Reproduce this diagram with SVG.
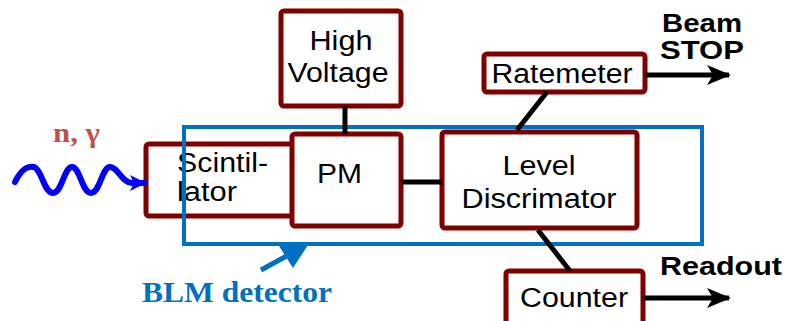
<svg xmlns="http://www.w3.org/2000/svg" width="788" height="321" viewBox="0 0 788 321">
<defs>
<style>
.box{fill:#fff;stroke:#800000;stroke-width:5}
.lbl{font-family:"Liberation Sans",Arial,sans-serif;font-size:27px;fill:#000}
.bold{font-family:"Liberation Sans",Arial,sans-serif;font-weight:bold;font-size:25px;fill:#000}
.conn{stroke:#000;stroke-width:5;fill:none}
</style>
<marker id="ah" viewBox="0 0 24 20" refX="22" refY="10" markerWidth="24" markerHeight="20" markerUnits="userSpaceOnUse" orient="auto">
<path d="M0,0 L24,10 L0,20 L6,10 Z" fill="#000"/>
</marker>
<marker id="bh" viewBox="0 0 16 16" refX="14" refY="8" markerWidth="16" markerHeight="16" markerUnits="userSpaceOnUse" orient="auto">
<path d="M0,0 L16,8 L0,16 L4,8 Z" fill="#0000ff"/>
</marker>
</defs>
<g id="scintillator">
<rect class="box" x="146" y="144" width="150" height="72" rx="3"/>
<text class="lbl" x="177" y="172" font-size="25" textLength="91" lengthAdjust="spacingAndGlyphs">Scintil-</text>
<text class="lbl" x="177" y="201" font-size="25" textLength="60" lengthAdjust="spacingAndGlyphs">lator</text>
</g>
<g id="blm-detector">
<rect x="184" y="127" width="518" height="117" fill="none" stroke="#0070c0" stroke-width="4"/>
<polygon points="279,246 308,245 293,268" fill="#0070c0"/>
<line x1="261" y1="270" x2="292" y2="253" stroke="#0070c0" stroke-width="5"/>
<text x="142" y="302" font-family="'Liberation Serif','Times New Roman',serif" font-weight="bold" font-size="29" fill="#0070c0" textLength="190" lengthAdjust="spacingAndGlyphs">BLM detector</text>
</g>
<g id="pm">
<rect class="box" x="292" y="134" width="109" height="92" rx="3"/>
<text class="lbl" x="317" y="183" font-size="28" textLength="45" lengthAdjust="spacingAndGlyphs">PM</text>
</g>
<g id="high-voltage">
<rect class="box" x="281" y="11" width="120" height="95" rx="3"/>
<text class="lbl" x="341" y="50" text-anchor="middle" textLength="63" lengthAdjust="spacingAndGlyphs">High</text>
<text class="lbl" x="338" y="82" text-anchor="middle" textLength="101" lengthAdjust="spacingAndGlyphs">Voltage</text>
</g>
<g id="level-discriminator">
<rect class="box" x="442" y="132" width="195" height="96" rx="3"/>
<text class="lbl" x="539" y="175" text-anchor="middle" textLength="73" lengthAdjust="spacingAndGlyphs">Level</text>
<text class="lbl" x="539" y="208" text-anchor="middle" textLength="155" lengthAdjust="spacingAndGlyphs">Discrimator</text>
</g>
<g id="ratemeter">
<rect class="box" x="484" y="54" width="161" height="38" rx="3"/>
<text class="lbl" x="562" y="83" text-anchor="middle" font-size="25" textLength="141" lengthAdjust="spacingAndGlyphs">Ratemeter</text>
</g>
<g id="counter">
<rect class="box" x="506" y="271" width="137" height="60" rx="3"/>
<text class="lbl" x="574" y="307" text-anchor="middle" font-size="25" textLength="108" lengthAdjust="spacingAndGlyphs">Counter</text>
</g>
<g id="labels">
<text class="bold" x="702" y="32" text-anchor="middle" font-size="21" textLength="80" lengthAdjust="spacingAndGlyphs">Beam</text>
<text class="bold" x="702" y="59" text-anchor="middle" font-size="22" textLength="84" lengthAdjust="spacingAndGlyphs">STOP</text>
<text class="bold" x="721" y="275" text-anchor="middle" textLength="122" lengthAdjust="spacingAndGlyphs">Readout</text>
<text x="53" y="142" font-family="'Liberation Serif','Times New Roman',serif" font-weight="bold" font-size="28" fill="#c0504d" textLength="47" lengthAdjust="spacingAndGlyphs">n, γ</text>
</g>
<g id="connectors">
<line class="conn" x1="345" y1="106" x2="345" y2="134"/>
<line class="conn" x1="401" y1="182" x2="442" y2="182"/>
<line class="conn" x1="547" y1="92" x2="517" y2="130"/>
<line class="conn" x1="538" y1="230" x2="570" y2="271"/>
<line class="conn" x1="645" y1="75" x2="729" y2="75" marker-end="url(#ah)"/>
<line class="conn" x1="643" y1="298" x2="729" y2="298" marker-end="url(#ah)"/>
<path d="M15,182 C22,168 28,166 34,167 C42,170 44,193 53,193 C62,193 64,167 72,167 C80,167 82,193 91,193 C100,193 102,167 110,167 C118,167 122,183 132,183 L144,183" fill="none" stroke="#0000ff" stroke-width="6" stroke-linecap="round" marker-end="url(#bh)"/>
</g>
</svg>
